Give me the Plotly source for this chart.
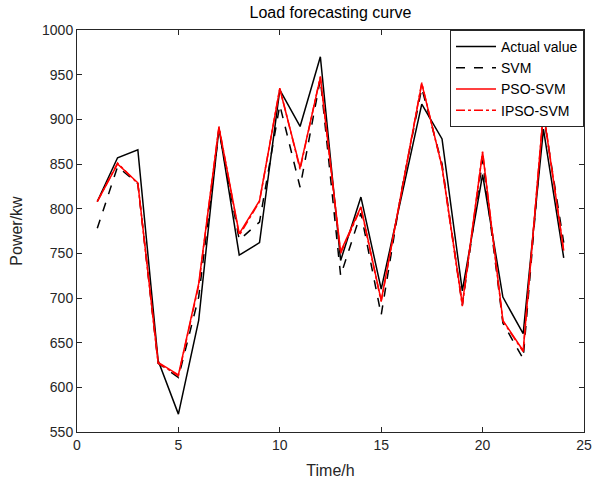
import plotly.graph_objects as go

hours = list(range(1, 25))
actual = [808, 857, 866, 630, 570, 675, 890, 748, 762, 933, 892, 970, 742, 813, 710, 812, 917, 878, 708, 838, 701, 660, 889, 745]
svm = [778, 847, 828, 627, 611, 701, 888, 765, 785, 916, 824, 945, 725, 795, 681, 820, 935, 850, 692, 855, 672, 632, 905, 762]
pso_svm = [808, 850, 829, 628, 614, 716, 891, 772, 809, 934, 846, 947, 752, 802, 697, 818, 940, 847, 693, 863, 675, 641, 908, 753]
ipso_svm = [808, 851, 828, 627, 613, 714, 892, 770, 808, 935, 844, 948, 750, 801, 696, 820, 941, 846, 691, 864, 674, 640, 910, 752]

x_ticks = [0, 5, 10, 15, 20, 25]
y_ticks = [550, 600, 650, 700, 750, 800, 850, 900, 950, 1000]

FONT = "Liberation Sans, Arial"

fig = go.Figure()
fig.add_trace(go.Scatter(x=hours, y=actual, mode="lines", name="Actual value",
                         line=dict(color="black", width=1.5)))
fig.add_trace(go.Scatter(x=hours, y=svm, mode="lines", name="SVM",
                         line=dict(color="black", width=1.5, dash="dash")))
fig.add_trace(go.Scatter(x=hours, y=pso_svm, mode="lines", name="PSO-SVM",
                         line=dict(color="#ff0000", width=1.5)))
fig.add_trace(go.Scatter(x=hours, y=ipso_svm, mode="lines", name="IPSO-SVM",
                         line=dict(color="#ff0000", width=1.5, dash="dashdot")))

axis_common = dict(showgrid=False, zeroline=False, showline=True, linecolor="#262626",
                   linewidth=1, mirror="allticks", ticks="inside", ticklen=5,
                   tickcolor="#262626", ticklabeloverflow="allow", automargin=False,
                   tickfont=dict(family=FONT, size=14, color="#262626"))

fig.update_layout(
    width=593, height=479,
    margin=dict(l=77, r=9, t=30, b=47),
    paper_bgcolor="white", plot_bgcolor="white",
    title=dict(text="Load forecasting curve", x=0.5, xref="paper", y=1, yref="container",
               yanchor="top", pad=dict(t=7),
               font=dict(family=FONT, size=16, color="black")),
    xaxis=dict(range=[0, 25], tickvals=x_ticks,
               title=dict(text="Time/h", font=dict(family=FONT, size=16, color="#262626")),
               **axis_common),
    yaxis=dict(range=[550, 1000], tickvals=y_ticks,
               title=dict(text="Power/kw", font=dict(family=FONT, size=16, color="#262626")),
               **axis_common),
    legend=dict(x=1, y=1, xanchor="right", yanchor="top", bgcolor="white",
                bordercolor="#262626", borderwidth=1,
                font=dict(family=FONT, size=14, color="black"),
                tracegroupgap=0, itemwidth=40),
    showlegend=True,
)

fig.write_html("out.html")
